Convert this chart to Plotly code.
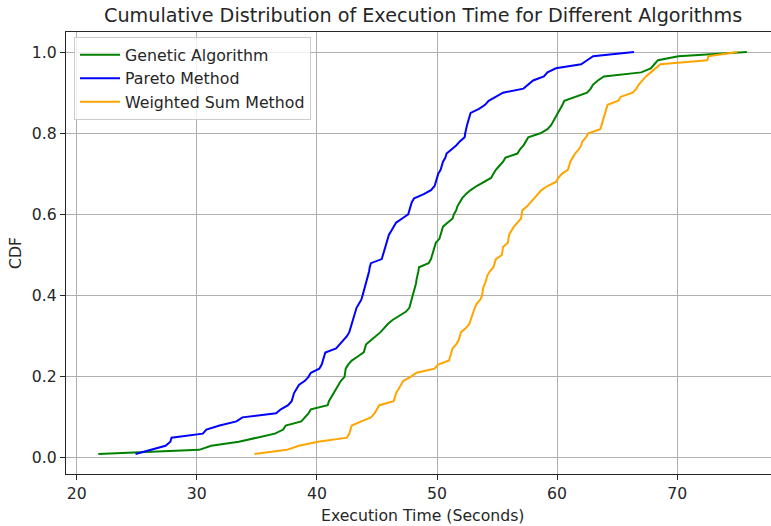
import plotly.graph_objects as go

# Sorted execution-time samples (seconds); CDF = rank / n
genetic = [21.8, 30.2, 31.2, 33.5, 35.0, 36.5, 37.2, 37.4, 38.7, 39.0,
           39.3, 39.5, 40.9, 41.0, 41.2, 41.4, 41.6, 41.8, 42.0, 42.3,
           42.35, 42.4, 42.6, 42.9, 43.4, 43.9, 44.0, 44.1, 44.5, 44.9,
           45.3, 45.6, 45.9, 46.3, 46.8, 47.4, 47.7, 47.8, 47.9, 48.0,
           48.1, 48.2, 48.25, 48.3, 48.4, 48.45, 48.5, 49.3, 49.5, 49.6,
           49.7, 49.8, 49.9, 50.2, 50.3, 50.4, 50.5, 50.9, 51.3, 51.4,
           51.6, 51.7, 51.9, 52.1, 52.4, 52.8, 53.3, 53.9, 54.5, 54.7,
           54.9, 55.2, 55.5, 55.7, 56.7, 56.9, 57.2, 57.4, 57.6, 58.6,
           59.2, 59.5, 59.7, 59.9, 60.1, 60.3, 60.45, 60.6, 61.6, 62.5,
           62.8, 63.0, 63.4, 63.9, 67.0, 67.8, 68.1, 68.4, 70.1, 75.8]

pareto = [24.9, 26.2, 27.4, 27.8, 27.9, 30.5, 30.8, 31.9, 33.3, 33.8,
          36.6, 37.0, 37.6, 37.9, 38.0, 38.1, 38.3, 38.5, 39.0, 39.3,
          39.5, 40.2, 40.4, 40.5, 40.6, 40.7, 41.6, 41.9, 42.2, 42.5,
          42.7, 42.8, 42.9, 43.0, 43.1, 43.2, 43.3, 43.5, 43.7, 43.8,
          43.9, 44.0, 44.1, 44.2, 44.3, 44.35, 44.4, 44.5, 45.4, 45.5,
          45.6, 45.7, 45.8, 45.9, 46.0, 46.2, 46.4, 46.6, 47.1, 47.6,
          47.7, 47.8, 47.9, 48.1, 48.9, 49.5, 49.8, 49.9, 50.0, 50.1,
          50.3, 50.4, 50.5, 50.7, 50.8, 51.2, 51.6, 51.9, 52.3, 52.35,
          52.4, 52.5, 52.6, 52.7, 52.8, 53.5, 54.0, 54.3, 54.9, 55.5,
          57.2, 57.6, 58.0, 58.9, 59.2, 59.9, 62.0, 62.5, 63.0, 66.4]

weighted = [34.8, 37.5, 38.5, 40.1, 42.5, 42.7, 42.8, 42.9, 43.7, 44.5,
            44.8, 45.0, 45.2, 46.4, 46.5, 46.6, 46.8, 47.0, 47.2, 47.8,
            48.3, 49.8, 50.1, 51.0, 51.1, 51.2, 51.3, 51.6, 51.8, 51.9,
            52.0, 52.4, 52.7, 52.8, 52.9, 53.0, 53.15, 53.3, 53.6, 53.75,
            53.8, 53.85, 54.0, 54.1, 54.2, 54.4, 54.7, 54.8, 54.9, 55.4,
            55.45, 55.5, 55.9, 55.95, 56.0, 56.2, 56.4, 56.7, 57.0, 57.05,
            57.1, 57.5, 57.8, 58.1, 58.4, 58.7, 59.2, 59.9, 60.1, 60.4,
            60.9, 61.0, 61.1, 61.3, 61.5, 61.8, 62.0, 62.1, 62.4, 62.6,
            63.6, 63.7, 63.8, 63.9, 64.0, 64.1, 64.2, 65.1, 65.3, 66.3,
            66.6, 66.8, 67.1, 67.4, 67.8, 68.2, 68.6, 72.5, 72.6, 75.0]

series_names = ["Genetic Algorithm", "Pareto Method", "Weighted Sum Method"]
series_colors = ["green", "blue", "orange"]
x_ticks = [20, 30, 40, 50, 60, 70]
y_ticks = [0.0, 0.2, 0.4, 0.6, 0.8, 1.0]

FONT = "DejaVu Sans"
TXT = "#262626"
fig = go.Figure()
for name, data, color in zip(series_names, [genetic, pareto, weighted], series_colors):
    xs = sorted(data)
    n = len(xs)
    ys = [(i + 1) / n for i in range(n)]
    fig.add_trace(go.Scatter(x=xs, y=ys, mode="lines", name=name,
                             line=dict(color=color, width=2)))

W, H = 771, 526
L, T, B, R = 66, 32, 52, 0
pw = W - L - R
ph = H - T - B

axis_common = dict(showline=True, linecolor=TXT, linewidth=1.1,
                   ticks="outside", ticklen=5, tickwidth=1.1, tickcolor=TXT,
                   showgrid=True, gridcolor="#b0b0b0", gridwidth=1,
                   zeroline=False,
                   tickfont=dict(family=FONT, size=15.7, color=TXT))

fig.update_layout(
    width=W, height=H,
    margin=dict(l=L, r=R, t=T, b=B, pad=0),
    plot_bgcolor="white", paper_bgcolor="white",
    xaxis=dict(range=[19.11, 77.81], tickvals=x_ticks, mirror=True, **axis_common),
    yaxis=dict(range=[-0.0395, 1.0495], tickvals=y_ticks, tickformat=".1f", mirror=False, **axis_common),
    legend=dict(x=(74 - L) / pw, y=(H - B - 37) / ph, xanchor="left", yanchor="top",
                bgcolor="rgba(255,255,255,0.8)", bordercolor="#cccccc", borderwidth=1,
                font=dict(family=FONT, size=15.8, color=TXT),
                tracegroupgap=0, itemwidth=40),
    showlegend=True,
)

center_x = ((422.5 - L) / pw)
fig.add_annotation(text="Cumulative Distribution of Execution Time for Different Algorithms",
                   xref="paper", yref="paper", x=center_x, y=1 + (T - 29) / ph,
                   xanchor="center", yanchor="bottom", showarrow=False,
                   font=dict(family=FONT, size=19.2, color=TXT))
fig.add_annotation(text="Execution Time (Seconds)", xref="paper", yref="paper",
                   x=center_x, y=-(515 - (H - B)) / ph, xanchor="center", yanchor="middle",
                   showarrow=False, font=dict(family=FONT, size=15.7, color=TXT))
fig.add_annotation(text="CDF", xref="paper", yref="paper", textangle=-90,
                   x=-(L - 15) / pw, y=(H - B - 253) / ph, xanchor="center", yanchor="middle",
                   showarrow=False, font=dict(family=FONT, size=15.7, color=TXT))

fig.write_html("out.html")
